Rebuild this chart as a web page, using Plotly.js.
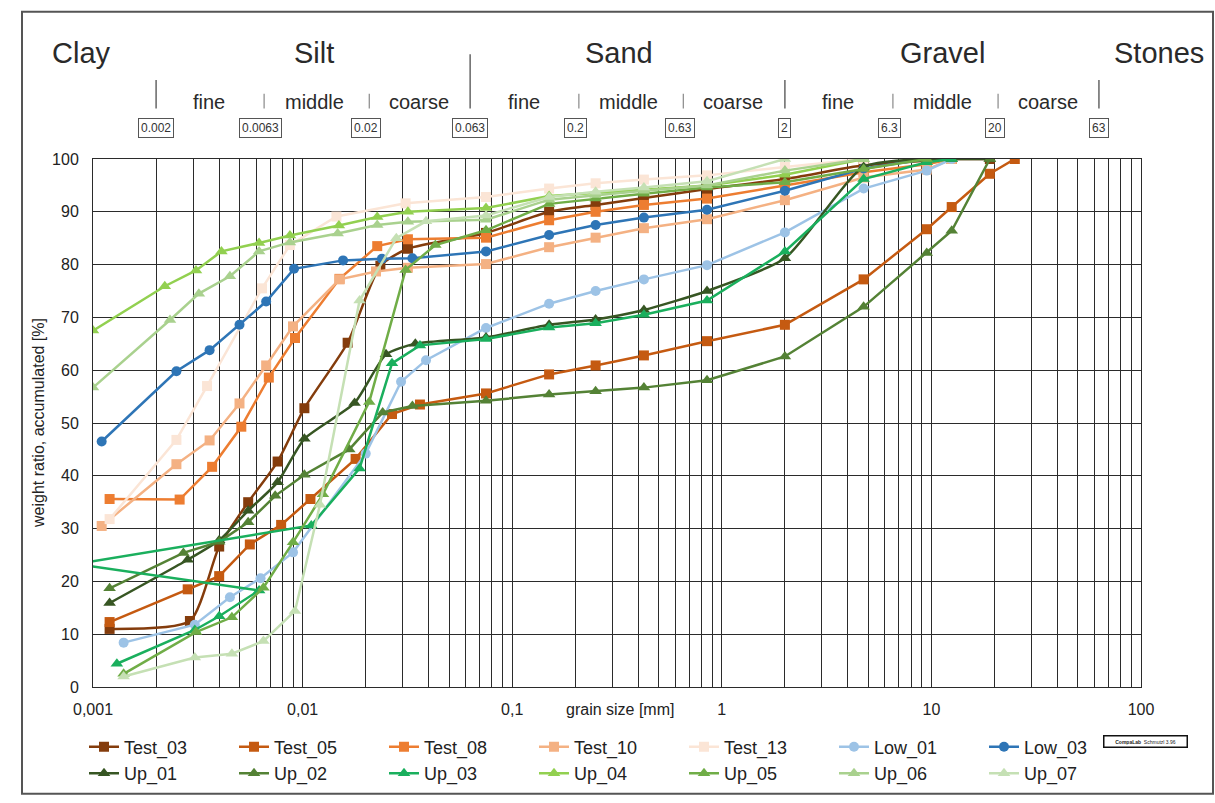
<!DOCTYPE html>
<html>
<head>
<meta charset="utf-8">
<script src="https://cdn.plot.ly/plotly-3.0.1.min.js"></script>
<style>
  html, body { margin: 0; padding: 0; background: #ffffff; }
  #chart { width: 1215px; height: 803px; }
</style>
</head>
<body>
<div id="chart"></div>
<script>
// ---- grain size distribution data (grain size in mm, passing in %) ----
const test03X = [0.0012, 0.0029, 0.004, 0.0055, 0.0076, 0.0102, 0.0164, 0.0235, 0.0318, 0.075, 0.15, 0.25, 0.425, 0.85, 2, 4.75, 9.5, 12.5, 19];
const test03Y = [11.0, 12.5, 26.6, 35.0, 42.7, 52.8, 65.2, 79.8, 83.0, 86.0, 90.0, 91.3, 92.6, 94.3, 96.2, 98.8, 99.7, 100, 100];

const test05X = [0.0012, 0.00283, 0.004, 0.0056, 0.0079, 0.0109, 0.0179, 0.0267, 0.0363, 0.075, 0.15, 0.25, 0.425, 0.85, 2, 4.75, 9.5, 12.5, 19, 25];
const test05Y = [12.3, 18.5, 21.0, 27.0, 30.7, 35.6, 43.2, 51.7, 53.5, 55.6, 59.2, 60.9, 62.8, 65.5, 68.6, 77.2, 86.7, 90.9, 97.2, 100];

const test08X = [0.0012, 0.00259, 0.0037, 0.0051, 0.0069, 0.0092, 0.015, 0.0227, 0.0318, 0.075, 0.15, 0.25, 0.425, 0.85, 2, 4.75, 9.5, 12.5];
const test08Y = [35.6, 35.5, 41.7, 49.3, 58.6, 66.1, 77.3, 83.5, 84.8, 85.1, 88.4, 90.0, 91.3, 92.5, 95.0, 97.5, 99.0, 100];

const test10X = [0.0011, 0.0025, 0.0036, 0.005, 0.0067, 0.009, 0.015, 0.0224, 0.0318, 0.075, 0.15, 0.25, 0.425, 0.85, 2, 4.75, 9.5, 12.5];
const test10Y = [30.5, 42.2, 46.7, 53.7, 60.9, 68.3, 77.2, 78.7, 79.4, 80.1, 83.3, 85.1, 86.9, 88.6, 92.2, 96.5, 98.0, 100];

const test13X = [0.0012, 0.0025, 0.0035, 0.0064, 0.0087, 0.0145, 0.031, 0.075, 0.15, 0.25, 0.425, 0.85, 2, 4.75];
const test13Y = [31.8, 46.8, 57.0, 75.5, 83.7, 89.1, 91.6, 92.8, 94.4, 95.4, 96.1, 96.9, 98.5, 100];

const low01X = [0.0014, 0.00306, 0.0045, 0.0063, 0.009, 0.02, 0.0295, 0.0388, 0.075, 0.15, 0.25, 0.425, 0.85, 2, 4.75, 9.5, 12.5];
const low01Y = [8.4, 11.8, 17.0, 20.6, 25.5, 44.2, 57.8, 61.9, 68.0, 72.6, 75.0, 77.2, 79.9, 86.1, 94.4, 97.8, 100];

const low03X = [0.0011, 0.0025, 0.0036, 0.005, 0.0067, 0.0091, 0.0156, 0.0239, 0.0334, 0.075, 0.15, 0.25, 0.425, 0.85, 2, 4.75, 9.5];
const low03Y = [46.5, 59.8, 63.8, 68.6, 73.0, 79.2, 80.8, 81.1, 81.2, 82.5, 85.6, 87.5, 88.9, 90.4, 94.0, 98.2, 100];

const up01X = [0.0012, 0.00283, 0.004, 0.0055, 0.0076, 0.0102, 0.0177, 0.025, 0.0345, 0.075, 0.15, 0.25, 0.425, 0.85, 2, 4.75, 9.5, 12.5, 19];
const up01Y = [15.9, 24.1, 27.8, 33.4, 38.8, 47.0, 53.8, 63.0, 65.0, 66.2, 68.6, 69.6, 71.4, 75.0, 81.2, 98.5, 100, 100, 100];

const up02X = [0.0012, 0.0027, 0.004, 0.0055, 0.0074, 0.0102, 0.0167, 0.0241, 0.0334, 0.075, 0.15, 0.25, 0.425, 0.85, 2, 4.75, 9.5, 12.5, 19];
const up02Y = [18.7, 25.4, 27.5, 31.2, 36.2, 40.2, 45.0, 52.0, 53.2, 54.2, 55.4, 56.0, 56.7, 58.1, 62.6, 72.0, 82.2, 86.4, 100];

// the fifth reading of Up_03 lies below 0.001 mm, outside the plotted range
const up03X = [0.0013, 0.00306, 0.004, 0.0062, 0.00083, 0.011, 0.0187, 0.0267, 0.0363, 0.075, 0.15, 0.25, 0.425, 0.85, 2, 4.75, 9.5, 12.5];
const up03Y = [4.4, 10.8, 13.4, 18.3, 23.3, 30.6, 41.4, 61.3, 64.7, 65.9, 68.1, 68.9, 70.5, 73.2, 82.5, 96.2, 99.4, 100];

const up04X = [0.001, 0.0022, 0.0031, 0.0041, 0.0062, 0.0087, 0.0149, 0.0227, 0.0318, 0.075, 0.15, 0.25, 0.425, 0.85, 2, 4.75];
const up04Y = [67.5, 75.9, 78.9, 82.5, 84.1, 85.5, 87.4, 89.0, 90.0, 90.7, 93.0, 93.6, 94.2, 95.0, 97.0, 100];

const up05X = [0.0014, 0.0031, 0.0046, 0.0065, 0.009, 0.0125, 0.0208, 0.031, 0.043, 0.075, 0.15, 0.25, 0.425, 0.85, 2, 4.75, 9.5];
const up05Y = [2.5, 10.4, 13.2, 18.8, 27.4, 36.5, 54.0, 79.0, 83.7, 86.5, 91.5, 92.5, 93.4, 94.6, 95.6, 98.1, 100];

const up06X = [0.001, 0.00233, 0.0032, 0.0045, 0.0062, 0.0087, 0.0147, 0.0227, 0.0318, 0.075, 0.15, 0.25, 0.425, 0.85, 2, 4.75];
const up06Y = [56.7, 69.5, 74.5, 77.8, 82.5, 84.2, 85.9, 87.5, 88.1, 88.5, 92.3, 93.2, 94.0, 95.0, 97.8, 100];

const up07X = [0.0014, 0.00306, 0.0046, 0.0065, 0.0092, 0.0121, 0.0187, 0.028, 0.0388, 0.075, 0.15, 0.25, 0.425, 0.85, 2];
const up07Y = [2.0, 5.6, 6.3, 8.7, 14.4, 34.5, 73.2, 85.0, 88.2, 89.3, 92.8, 93.8, 94.6, 95.8, 100];

// axis ticks
const xTickVals = [0.001, 0.01, 0.1, 1, 10, 100];
const xTickText = ['0,001', '0,01', '0,1', '1', '10', '100'];

// soil classification header
const groupNames = ['Clay', 'Silt', 'Sand', 'Gravel', 'Stones'];
const boundaryVals = [0.002, 0.0063, 0.02, 0.063, 0.2, 0.63, 2, 6.3, 20, 63];
const boundaryText = ['0.002', '0.0063', '0.02', '0.063', '0.2', '0.63', '2', '6.3', '20', '63'];
const subNames = ['fine', 'middle', 'coarse', 'fine', 'middle', 'coarse', 'fine', 'middle', 'coarse'];

// ---- series definitions ----
const series = [
  { name: 'Test_03', x: test03X, y: test03Y },
  { name: 'Test_05', x: test05X, y: test05Y },
  { name: 'Test_08', x: test08X, y: test08Y },
  { name: 'Test_10', x: test10X, y: test10Y },
  { name: 'Test_13', x: test13X, y: test13Y },
  { name: 'Low_01',  x: low01X,  y: low01Y },
  { name: 'Low_03',  x: low03X,  y: low03Y },
  { name: 'Up_01',   x: up01X,   y: up01Y },
  { name: 'Up_02',   x: up02X,   y: up02Y },
  { name: 'Up_03',   x: up03X,   y: up03Y },
  { name: 'Up_04',   x: up04X,   y: up04Y },
  { name: 'Up_05',   x: up05X,   y: up05Y },
  { name: 'Up_06',   x: up06X,   y: up06Y },
  { name: 'Up_07',   x: up07X,   y: up07Y }
];

// Test_03 and Up_01 are drawn as smoothed curves, the others as polylines
const styles = {
  'Test_03': { color: '#843c0c', symbol: 'square', smooth: true },
  'Test_05': { color: '#c55a11', symbol: 'square' },
  'Test_08': { color: '#ed7d31', symbol: 'square' },
  'Test_10': { color: '#f4b183', symbol: 'square' },
  'Test_13': { color: '#fbe5d6', symbol: 'square' },
  'Low_01':  { color: '#9dc3e6', symbol: 'circle' },
  'Low_03':  { color: '#2e75b6', symbol: 'circle' },
  'Up_01':   { color: '#375623', symbol: 'triangle-up', smooth: true },
  'Up_02':   { color: '#548235', symbol: 'triangle-up' },
  'Up_03':   { color: '#1aaf5d', symbol: 'triangle-up' },
  'Up_04':   { color: '#92d050', symbol: 'triangle-up' },
  'Up_05':   { color: '#70ad47', symbol: 'triangle-up' },
  'Up_06':   { color: '#a9d18e', symbol: 'triangle-up' },
  'Up_07':   { color: '#c5e0b4', symbol: 'triangle-up' }
};

const traces = series.map(s => {
  const st = styles[s.name];
  return {
    type: 'scatter',
    mode: 'lines+markers',
    name: s.name,
    x: s.x,
    y: s.y,
    line: { color: st.color, width: 2.5, shape: st.smooth ? 'spline' : 'linear', smoothing: 0.6 },
    marker: { color: st.color, symbol: st.symbol, size: st.symbol === 'triangle-up' ? 11 : 10, line: { width: 0 } },
    cliponaxis: true
  };
});

// ---- layout geometry ----
const W = 1215, H = 803;
const M = { l: 93, r: 74, t: 159, b: 110 };
const plotW = W - M.l - M.r;
const plotH = H - M.t - M.b;
const paperX = px => (px - M.l) / plotW;
const paperY = py => (H - M.b - py) / plotH;
const lg = Math.log10;

const font = 'Liberation Sans, Arial, sans-serif';
const annotations = [];
const shapes = [];

// group names: Clay and Stones sit at the outer ends, the others centred over their range
const groupPos = [paperX(81), null, null, null, paperX(1159)];
const groupRanges = [null, [0.002, 0.063], [0.063, 2], [2, 63], null];
const groupNudge = [0, 0.005, -0.04, 0.003, 0];
groupNames.forEach((g, i) => {
  const a = {
    text: g, yref: 'paper', y: paperY(52), yanchor: 'middle', xanchor: 'center',
    showarrow: false, font: { family: font, size: 29, color: '#2a2a2a' }
  };
  if (groupRanges[i]) {
    a.xref = 'x';
    a.x = (lg(groupRanges[i][0]) + lg(groupRanges[i][1])) / 2 + groupNudge[i];
  } else {
    a.xref = 'paper';
    a.x = groupPos[i];
  }
  annotations.push(a);
});

// fraction names between boundaries
subNames.forEach((s, i) => {
  annotations.push({
    text: s, xref: 'x', yref: 'paper',
    x: (lg(boundaryVals[i]) + lg(boundaryVals[i + 1])) / 2 + 0.005,
    y: paperY(101), yanchor: 'middle', xanchor: 'center',
    showarrow: false, font: { family: font, size: 20, color: '#2a2a2a' }
  });
});

// boundary values in small boxes + separators (shape x on a log axis is a data value)
const majorBounds = [0.002, 0.063, 2, 63];
boundaryVals.forEach((v, i) => {
  annotations.push({
    text: boundaryText[i], xref: 'x', yref: 'paper',
    x: lg(v), y: paperY(128), yanchor: 'middle', xanchor: 'center',
    showarrow: false, font: { family: font, size: 12, color: '#333' },
    bordercolor: '#555', borderwidth: 1, borderpad: 2, bgcolor: '#ffffff'
  });
  const major = majorBounds.includes(v);
  const top = v === 0.063 ? 53 : (major ? 79 : 93);
  const sx = major ? v : v * 1.04;
  shapes.push({
    type: 'line', xref: 'x', yref: 'paper',
    x0: sx, x1: sx, y0: paperY(top), y1: paperY(108),
    line: { color: major ? '#666' : '#888', width: major ? 1.5 : 1.2 }
  });
});

// x axis caption placed beside the tick labels
annotations.push({
  text: 'grain size [mm]', xref: 'paper', yref: 'paper',
  x: paperX(620), y: paperY(716), xanchor: 'center', yanchor: 'middle',
  showarrow: false, font: { family: font, size: 16, color: '#222' }
});

// y axis caption
annotations.push({
  text: 'weight ratio, accumulated [%]', xref: 'paper', yref: 'paper',
  x: paperX(38), y: 0.5, xanchor: 'center', yanchor: 'middle', textangle: -90,
  showarrow: false, font: { family: font, size: 16, color: '#222' }
});

// small program stamp next to the legend
annotations.push({
  text: '<b>CompaLab</b>  Schmutzl 3.96', xref: 'paper', yref: 'paper',
  x: paperX(1145), y: paperY(748), xanchor: 'center', yanchor: 'middle',
  showarrow: false, font: { family: font, size: 5, color: '#222' },
  bordercolor: '#111', borderwidth: 1.5, borderpad: 2, width: 78
});

// outer frame
shapes.push({
  type: 'rect', xref: 'paper', yref: 'paper',
  x0: paperX(22), x1: paperX(1213), y0: paperY(801), y1: paperY(10),
  line: { color: '#555', width: 2 }, fillcolor: 'rgba(0,0,0,0)', layer: 'below'
});

const layout = {
  width: W, height: H,
  margin: M,
  paper_bgcolor: '#ffffff',
  plot_bgcolor: '#ffffff',
  font: { family: font, size: 16, color: '#222' },
  showlegend: true,
  xaxis: {
    type: 'log',
    range: [-3, 2],
    tickvals: xTickVals,
    ticktext: xTickText,
    ticks: '',
    ticklabelstandoff: 8,
    showgrid: true,
    gridcolor: '#2b2b2b',
    gridwidth: 1,
    minor: { dtick: 'D1', showgrid: true, gridcolor: '#2b2b2b', gridwidth: 1, ticks: '' },
    showline: true, linecolor: '#2b2b2b', linewidth: 1, mirror: true,
    zeroline: false,
    tickfont: { family: font, size: 16, color: '#222' },
    fixedrange: true
  },
  yaxis: {
    range: [0, 100],
    dtick: 10,
    ticks: '',
    ticklabelstandoff: 10,
    showgrid: true,
    gridcolor: '#2b2b2b',
    gridwidth: 1,
    showline: true, linecolor: '#2b2b2b', linewidth: 1, mirror: true,
    zeroline: false,
    tickfont: { family: font, size: 16, color: '#222' },
    fixedrange: true
  },
  legend: {
    orientation: 'h',
    x: paperX(84), xanchor: 'left',
    y: paperY(735), yanchor: 'top',
    entrywidth: 105, entrywidthmode: 'pixels',
    font: { family: font, size: 18, color: '#222' },
    tracegroupgap: 0,
    bgcolor: 'rgba(0,0,0,0)'
  },
  annotations: annotations,
  shapes: shapes
};

Plotly.newPlot('chart', traces, layout, { displayModeBar: false, staticPlot: true });
</script>
</body>
</html>
